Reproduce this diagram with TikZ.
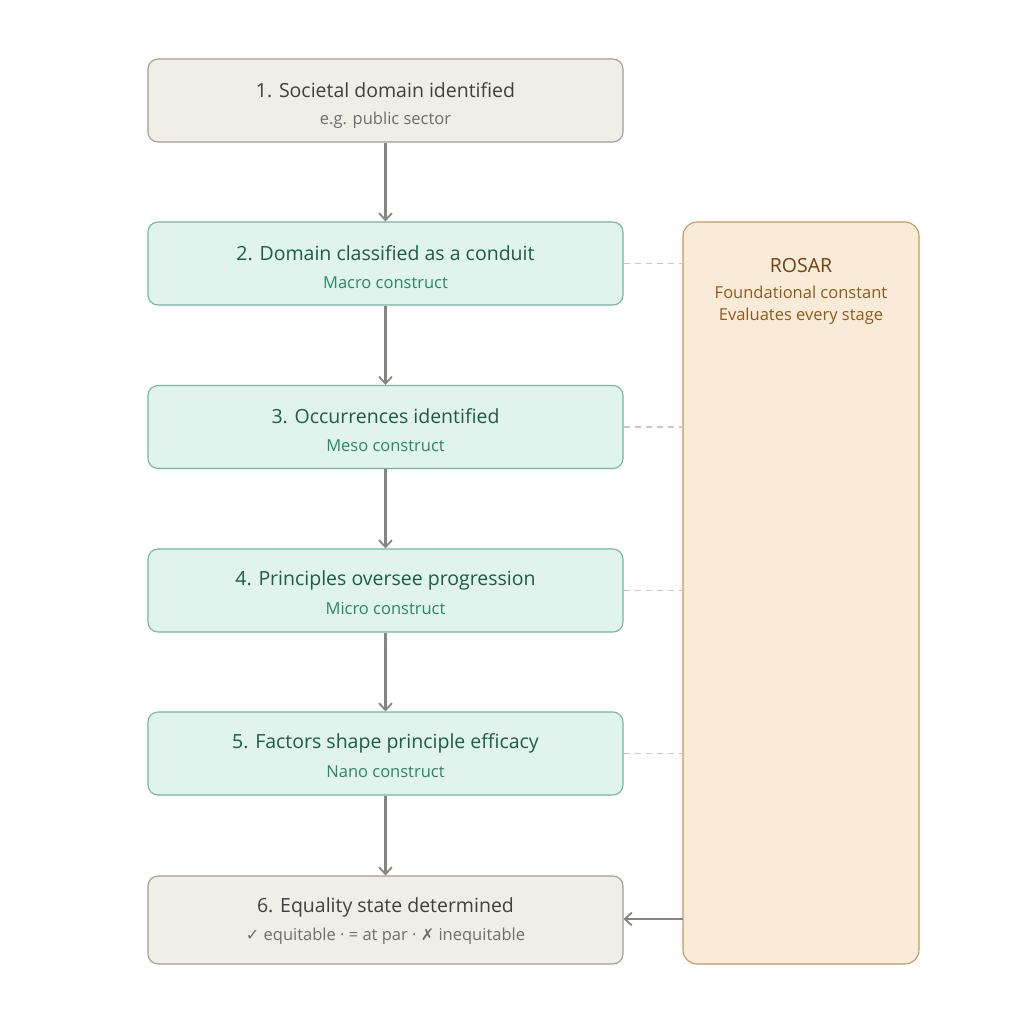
\documentclass[tikz,border=0pt]{standalone}
\usepackage{fontspec}
\setmainfont{Open Sans}
\newfontfamily\symfont{DejaVu Sans}
\usetikzlibrary{arrows.meta}
\definecolor{grayfill}{HTML}{F1EEE8}
\definecolor{graydraw}{HTML}{A19D96}
\definecolor{greenfill}{HTML}{E0F3EC}
\definecolor{greendraw}{HTML}{72B89E}
\definecolor{greentitle}{HTML}{1C5C48}
\definecolor{greensub}{HTML}{2A8867}
\definecolor{graytitle}{HTML}{404040}
\definecolor{graysub}{HTML}{6E6E6E}
\definecolor{rosarfill}{HTML}{FAEBD8}
\definecolor{rosardraw}{HTML}{C4985E}
\definecolor{rosartitle}{HTML}{6B4314}
\definecolor{rosarsub}{HTML}{8E5A1C}
\definecolor{arrowc}{HTML}{858581}
\definecolor{dashc}{HTML}{C8C8C8}
\tikzset{
  x=1pt, y=-1pt,
  stagebox/.style={rounded corners=10pt, line width=1.1pt, minimum width=475pt, minimum height=83pt, inner sep=0pt},
  graystage/.style={stagebox, fill=grayfill, draw=graydraw},
  greenstage/.style={stagebox, fill=greenfill, draw=greendraw},
  flow/.style={draw=arrowc, line width=2.1pt, -{Straight Barb[length=7pt,width=13pt,line width=1.8pt]}},
  link/.style={draw=dashc, line width=1.1pt, dash pattern=on 6pt off 5pt},
  ttl/.style={font=\fontsize{19.5}{22}\selectfont, anchor=center},
  sub/.style={font=\fontsize{16.5}{19}\selectfont, anchor=center},
}
\begin{document}
\begin{tikzpicture}
\useasboundingbox (0,0) rectangle (1009,1024);
% boxes
\node[graystage]  (s1) at (385.5,100.5) {};
\node[greenstage] (s2) at (385.5,263.5) {};
\node[greenstage] (s3) at (385.5,427) {};
\node[greenstage] (s4) at (385.5,590.5) {};
\node[greenstage] (s5) at (385.5,753.5) {};
\node[graystage, minimum height=88pt] (s6) at (385.5,920) {};
\node[rounded corners=14pt, line width=1.1pt, fill=rosarfill, draw=rosardraw, minimum width=236pt, minimum height=742pt, inner sep=0pt] (r) at (801,593) {};
% texts
\node[ttl, text=graytitle] (t1) at (385.5,90) {1. Societal domain identified};
\node[sub, text=graysub] (u1) at (385.5,120) {e.g. public sector};
\node[ttl, text=greentitle] (t2) at (385.5,253) {2. Domain classified as a conduit};
\node[sub, text=greensub] (u2) at (385.5,283) {Macro construct};
\node[ttl, text=greentitle] (t3) at (385.5,416) {3. Occurrences identified};
\node[sub, text=greensub] (u3) at (385.5,446) {Meso construct};
\node[ttl, text=greentitle] (t4) at (385.5,580) {4. Principles oversee progression};
\node[sub, text=greensub] (u4) at (385.5,609) {Micro construct};
\node[ttl, text=greentitle] (t5) at (385.5,743) {5. Factors shape principle efficacy};
\node[sub, text=greensub] (u5) at (385.5,772) {Nano construct};
\node[ttl, text=graytitle] (t6) at (385.5,907) {6. Equality state determined};
\node[sub, text=graysub] (u6) at (385.5,936) {{\symfont\fontsize{16}{19}\selectfont ✓} equitable · = at par · {\symfont\fontsize{16}{19}\selectfont ✗} inequitable};
\node[ttl, text=rosartitle] (rt) at (801,266) {ROSAR};
\node[sub, text=rosarsub] (r1) at (801,292) {Foundational constant};
\node[sub, text=rosarsub] (r2) at (801,316) {Evaluates every stage};
% flow arrows
\draw[flow] (s1.south) -- (s2.north);
\draw[flow] (s2.south) -- (s3.north);
\draw[flow] (s3.south) -- (s4.north);
\draw[flow] (s4.south) -- (s5.north);
\draw[flow] (s5.south) -- (s6.north);
% dashed links
\draw[link] (s2.east) -- (s2.east -| r.west);
\draw[link] (s3.east) -- (s3.east -| r.west);
\draw[link] (s4.east) -- (s4.east -| r.west);
\draw[link] (s5.east) -- (s5.east -| r.west);
% ROSAR to final
\coordinate (rin) at (683,919);
\draw[flow] (rin) -- (rin -| s6.east);
\end{tikzpicture}
\end{document}
